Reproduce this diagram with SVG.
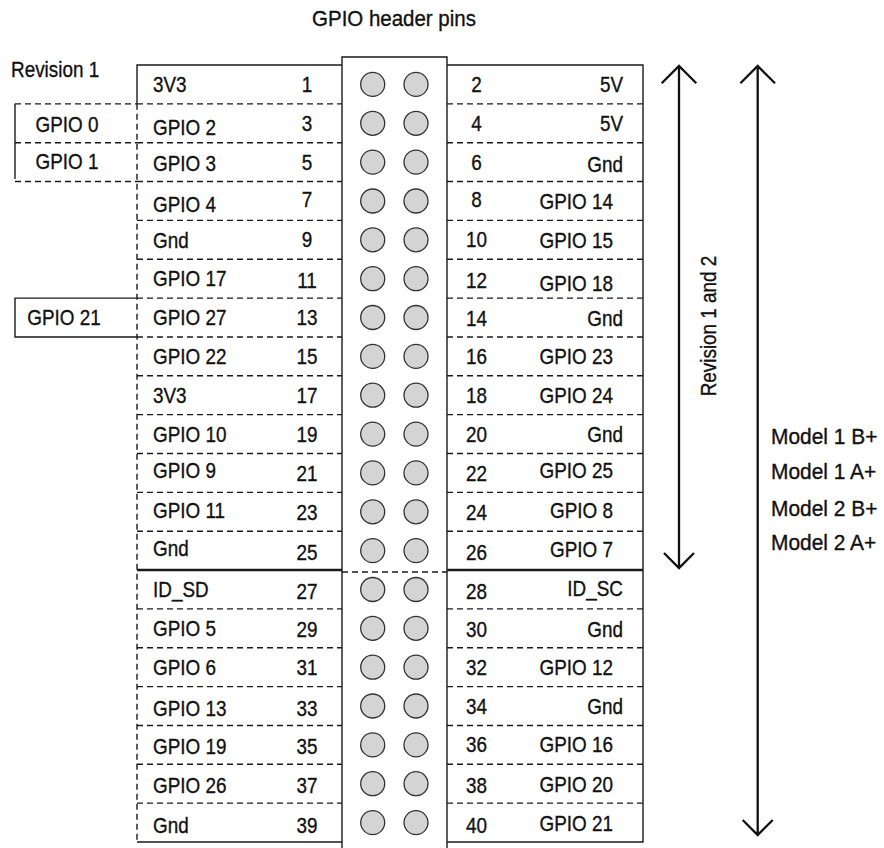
<svg xmlns="http://www.w3.org/2000/svg" width="884" height="848" viewBox="0 0 884 848">
<style>
text{font-family:"Liberation Sans",Arial,sans-serif;font-size:22.5px;fill:#111;stroke:#111;stroke-width:0.35;transform-box:fill-box;transform:scaleX(0.84);transform-origin:left center}
.n,.m{text-anchor:middle;transform-origin:center}
.e{text-anchor:end;transform-origin:right center}
.wide{transform:scaleX(0.91)}
.model{transform:scaleX(0.93)}
.solid{stroke:#1a1a1a;stroke-width:1.4;fill:none}
.thick{stroke:#1a1a1a;stroke-width:2.5;fill:none}
.dash{stroke:#1a1a1a;stroke-width:1.4;fill:none;stroke-dasharray:6 4}
.pin{fill:#d4d4d4;stroke:#333;stroke-width:1.3}
.arrow{stroke:#111;stroke-width:2.3;fill:none}
</style>
<rect width="884" height="848" fill="#fff"/>
<g id="title"><text x="394" y="26" class="m wide">GPIO header pins</text></g>
<g id="header">
<path class="solid" d="M342,848 V57 H447 V848"/>
<path class="dash" d="M342,572 H447"/>
<g id="pins">
<circle class="pin" cx="372.7" cy="84.4" r="12"/><circle class="pin" cx="416" cy="84.4" r="12"/>
<circle class="pin" cx="372.7" cy="123.3" r="12"/><circle class="pin" cx="416" cy="123.3" r="12"/>
<circle class="pin" cx="372.7" cy="162.1" r="12"/><circle class="pin" cx="416" cy="162.1" r="12"/>
<circle class="pin" cx="372.7" cy="201" r="12"/><circle class="pin" cx="416" cy="201" r="12"/>
<circle class="pin" cx="372.7" cy="239.8" r="12"/><circle class="pin" cx="416" cy="239.8" r="12"/>
<circle class="pin" cx="372.7" cy="278.7" r="12"/><circle class="pin" cx="416" cy="278.7" r="12"/>
<circle class="pin" cx="372.7" cy="317.5" r="12"/><circle class="pin" cx="416" cy="317.5" r="12"/>
<circle class="pin" cx="372.7" cy="356.4" r="12"/><circle class="pin" cx="416" cy="356.4" r="12"/>
<circle class="pin" cx="372.7" cy="395.2" r="12"/><circle class="pin" cx="416" cy="395.2" r="12"/>
<circle class="pin" cx="372.7" cy="434.1" r="12"/><circle class="pin" cx="416" cy="434.1" r="12"/>
<circle class="pin" cx="372.7" cy="472.9" r="12"/><circle class="pin" cx="416" cy="472.9" r="12"/>
<circle class="pin" cx="372.7" cy="511.8" r="12"/><circle class="pin" cx="416" cy="511.8" r="12"/>
<circle class="pin" cx="372.7" cy="550.6" r="12"/><circle class="pin" cx="416" cy="550.6" r="12"/>
<circle class="pin" cx="372.7" cy="589.5" r="12"/><circle class="pin" cx="416" cy="589.5" r="12"/>
<circle class="pin" cx="372.7" cy="628.3" r="12"/><circle class="pin" cx="416" cy="628.3" r="12"/>
<circle class="pin" cx="372.7" cy="667.2" r="12"/><circle class="pin" cx="416" cy="667.2" r="12"/>
<circle class="pin" cx="372.7" cy="706" r="12"/><circle class="pin" cx="416" cy="706" r="12"/>
<circle class="pin" cx="372.7" cy="744.9" r="12"/><circle class="pin" cx="416" cy="744.9" r="12"/>
<circle class="pin" cx="372.7" cy="783.7" r="12"/><circle class="pin" cx="416" cy="783.7" r="12"/>
<circle class="pin" cx="372.7" cy="822.6" r="12"/><circle class="pin" cx="416" cy="822.6" r="12"/>
</g>
</g>
<g id="left-table">
<path class="solid" d="M137,103.85 V65 H342"/>
<path class="dash" d="M137,103.85 V842"/>
<path class="dash" d="M137,103.85H342M137,142.7H342M137,181.55H342M137,220.4H342M137,259.25H342M137,298.1H342M137,336.95H342M137,375.8H342M137,414.65H342M137,453.5H342M137,492.35H342M137,531.2H342M137,608.9H342M137,647.75H342M137,686.6H342M137,725.45H342M137,764.3H342M137,803.15H342"/>
<path class="thick" d="M137,570 H342"/>
<path class="solid" d="M137,842 H342"/>
<g id="L1"><text x="153" y="92">3V3</text><text x="307" y="92" class="n">1</text></g>
<g id="L3"><text x="153" y="135">GPIO 2</text><text x="307" y="131" class="n">3</text></g>
<g id="L5"><text x="153" y="171">GPIO 3</text><text x="307" y="170" class="n">5</text></g>
<g id="L7"><text x="153" y="212">GPIO 4</text><text x="307" y="207" class="n">7</text></g>
<g id="L9"><text x="153" y="248">Gnd</text><text x="307" y="247" class="n">9</text></g>
<g id="L11"><text x="153" y="286">GPIO 17</text><text x="307" y="288" class="n">11</text></g>
<g id="L13"><text x="153" y="325">GPIO 27</text><text x="307" y="325" class="n">13</text></g>
<g id="L15"><text x="153" y="364">GPIO 22</text><text x="307" y="364" class="n">15</text></g>
<g id="L17"><text x="153" y="403">3V3</text><text x="307" y="403" class="n">17</text></g>
<g id="L19"><text x="153" y="442">GPIO 10</text><text x="307" y="442" class="n">19</text></g>
<g id="L21"><text x="153" y="478">GPIO 9</text><text x="307" y="481" class="n">21</text></g>
<g id="L23"><text x="153" y="518">GPIO 11</text><text x="307" y="520" class="n">23</text></g>
<g id="L25"><text x="153" y="556">Gnd</text><text x="307" y="560" class="n">25</text></g>
<g id="L27"><text x="153" y="597">ID_SD</text><text x="307" y="599" class="n">27</text></g>
<g id="L29"><text x="153" y="636">GPIO 5</text><text x="307" y="637" class="n">29</text></g>
<g id="L31"><text x="153" y="675">GPIO 6</text><text x="307" y="675" class="n">31</text></g>
<g id="L33"><text x="153" y="716">GPIO 13</text><text x="307" y="716" class="n">33</text></g>
<g id="L35"><text x="153" y="754">GPIO 19</text><text x="307" y="754" class="n">35</text></g>
<g id="L37"><text x="153" y="793">GPIO 26</text><text x="307" y="793" class="n">37</text></g>
<g id="L39"><text x="153" y="833">Gnd</text><text x="307" y="833" class="n">39</text></g>
</g>
<g id="right-table">
<path class="solid" d="M447,65 H643 V842 H447"/>
<path class="dash" d="M447,103.85H643M447,142.7H643M447,181.55H643M447,220.4H643M447,259.25H643M447,298.1H643M447,336.95H643M447,375.8H643M447,414.65H643M447,453.5H643M447,492.35H643M447,531.2H643M447,608.9H643M447,647.75H643M447,686.6H643M447,725.45H643M447,764.3H643M447,803.15H643"/>
<path class="thick" d="M447,570 H643"/>
<g id="R2"><text x="476.5" y="92" class="n">2</text><text x="623" y="92" class="e">5V</text></g>
<g id="R4"><text x="476.5" y="131" class="n">4</text><text x="623" y="131" class="e">5V</text></g>
<g id="R6"><text x="476.5" y="170" class="n">6</text><text x="623" y="172" class="e">Gnd</text></g>
<g id="R8"><text x="476.5" y="207" class="n">8</text><text x="613" y="209" class="e">GPIO 14</text></g>
<g id="R10"><text x="476.5" y="247" class="n">10</text><text x="613" y="248" class="e">GPIO 15</text></g>
<g id="R12"><text x="476.5" y="288" class="n">12</text><text x="613" y="291" class="e">GPIO 18</text></g>
<g id="R14"><text x="476.5" y="326" class="n">14</text><text x="623" y="326" class="e">Gnd</text></g>
<g id="R16"><text x="476.5" y="364" class="n">16</text><text x="613" y="364" class="e">GPIO 23</text></g>
<g id="R18"><text x="476.5" y="403" class="n">18</text><text x="613" y="403" class="e">GPIO 24</text></g>
<g id="R20"><text x="476.5" y="442" class="n">20</text><text x="623" y="442" class="e">Gnd</text></g>
<g id="R22"><text x="476.5" y="481" class="n">22</text><text x="613" y="478" class="e">GPIO 25</text></g>
<g id="R24"><text x="476.5" y="520" class="n">24</text><text x="613" y="518" class="e">GPIO 8</text></g>
<g id="R26"><text x="476.5" y="560" class="n">26</text><text x="613" y="557" class="e">GPIO 7</text></g>
<g id="R28"><text x="476.5" y="599" class="n">28</text><text x="623" y="596" class="e">ID_SC</text></g>
<g id="R30"><text x="476.5" y="637" class="n">30</text><text x="623" y="637" class="e">Gnd</text></g>
<g id="R32"><text x="476.5" y="675" class="n">32</text><text x="613" y="675" class="e">GPIO 12</text></g>
<g id="R34"><text x="476.5" y="714" class="n">34</text><text x="623" y="714" class="e">Gnd</text></g>
<g id="R36"><text x="476.5" y="752" class="n">36</text><text x="613" y="752" class="e">GPIO 16</text></g>
<g id="R38"><text x="476.5" y="793" class="n">38</text><text x="613" y="792" class="e">GPIO 20</text></g>
<g id="R40"><text x="476.5" y="833" class="n">40</text><text x="613" y="831" class="e">GPIO 21</text></g>
</g>
<g id="revision1">
<text x="11" y="77">Revision 1</text>
<path class="dash" d="M15,103.85 H137 M15,142.7 H137 M15,181.55 H137"/>
<path class="solid" d="M15,103.85 V179"/>
<text x="67" y="132" class="m">GPIO 0</text>
<text x="67" y="169" class="m">GPIO 1</text>
</g>
<g id="revision1-gpio21">
<path class="solid" d="M137,298.1 H15 V336.95 H137"/>
<text x="64" y="325" class="m">GPIO 21</text>
</g>
<g id="connectors">
<path class="arrow" d="M679,66 V568 M661.7,83.3 L679,66 L696.3,83.3 M664,553 L679,568 L694,553"/>
<path class="arrow" d="M757.7,66 V835 M740.4,83.3 L757.7,66 L775,83.3 M742.7,820 L757.7,835 L772.7,820"/>
</g>
<g id="labels">
<g transform="translate(716,326) rotate(-90)"><text x="0" y="0" class="m">Revision 1 and 2</text></g>
<text x="771" y="444" class="model">Model 1 B+</text>
<text x="771" y="479" class="model">Model 1 A+</text>
<text x="771" y="516" class="model">Model 2 B+</text>
<text x="771" y="550" class="model">Model 2 A+</text>
</g>
</svg>
